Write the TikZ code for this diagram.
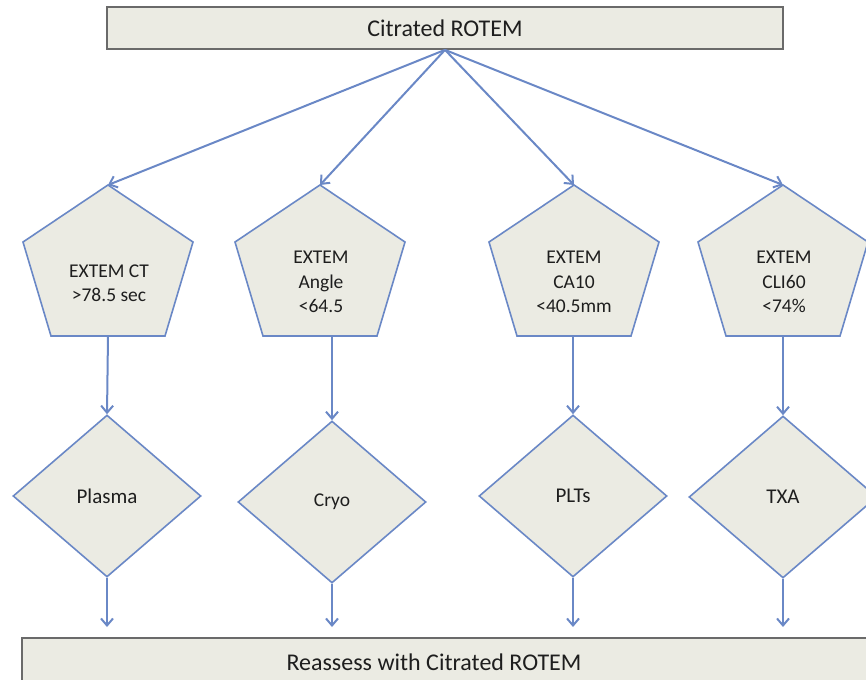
\documentclass[tikz,border=0pt]{standalone}
\usepackage{fontspec}
\setmainfont{Carlito}
\usetikzlibrary{shapes.geometric,arrows.meta}
\definecolor{lineblue}{HTML}{6A88C6}
\definecolor{boxfill}{HTML}{EBEBE3}
\definecolor{boxedge}{HTML}{6A6A6A}
\definecolor{txt}{HTML}{1E1E1E}
\begin{document}
\begin{tikzpicture}[x=1pt,y=-1pt,
  every node/.style={text=txt},
  rectbox/.style={draw=boxedge, line width=1.8pt, fill=boxfill, rectangle, inner sep=0pt},
  pent/.style={draw=lineblue, line width=1.6pt, fill=boxfill},
  dia/.style={diamond, draw=lineblue, line width=1.6pt, fill=boxfill, minimum width=188pt, minimum height=162pt, inner sep=0pt, font=\fontsize{21}{24}\selectfont},
  ptext/.style={align=center, font=\fontsize{19.5}{24.5}\selectfont},
  bigtext/.style={font=\fontsize{24}{28}\selectfont},
  arr/.style={draw=lineblue, line width=2pt, -{Straight Barb[length=7pt,width=12pt]}}]
\useasboundingbox (0,0) rectangle (866,679);
\clip (0,0) rectangle (866,679);

% top box
\node[rectbox, bigtext, minimum width=676pt, minimum height=42pt] (top) at (445,28) {Citrated ROTEM};

% bottom box
\node[rectbox, minimum width=868pt, minimum height=62pt] (bot) at (456,669) {};
\node[bigtext] (bottext) at (434,662) {Reassess with Citrated ROTEM};

% pentagons
\foreach \cx/\n in {108/1,320/2,574/3,783/4}{
  \draw[pent] (\cx,185) -- (\cx+85,242) -- (\cx+57,336) -- (\cx-57,336) -- (\cx-85,242) -- cycle;
  \coordinate (p\n t) at (\cx,185);
}
\coordinate (p1b) at (108,336);
\coordinate (p2b) at (332,336);
\coordinate (p3b) at (573,336);
\coordinate (p4b) at (783,336);

\node[ptext] (p1) at (109,283) {EXTEM CT\\>78.5 sec};
\node[ptext] (p2) at (321,282) {EXTEM\\Angle\\<64.5};
\node[ptext] (p3) at (574,282) {EXTEM\\CA10\\<40.5mm};
\node[ptext] (p4) at (784,282) {EXTEM\\CLI60\\<74\%};

% diamonds
\node[dia] (d1) at (107,496) {Plasma};
\node[dia, font=\fontsize{19.5}{24}\selectfont] (d2) at (332,502) {Cryo};
\node[dia] (d3) at (573,496) {PLTs};
\node[dia] (d4) at (783,497) {TXA};

\coordinate (e1) at (107,627);
\coordinate (e2) at (332,627);
\coordinate (e3) at (573,627);
\coordinate (e4) at (783,627);

% connectors
\foreach \n in {1,2,3,4}{
  \draw[arr] (top.south) -- (p\n t);
  \draw[arr] (p\n b) -- (d\n.north);
  \draw[arr] (d\n.south) -- (e\n);
}
\end{tikzpicture}
\end{document}
